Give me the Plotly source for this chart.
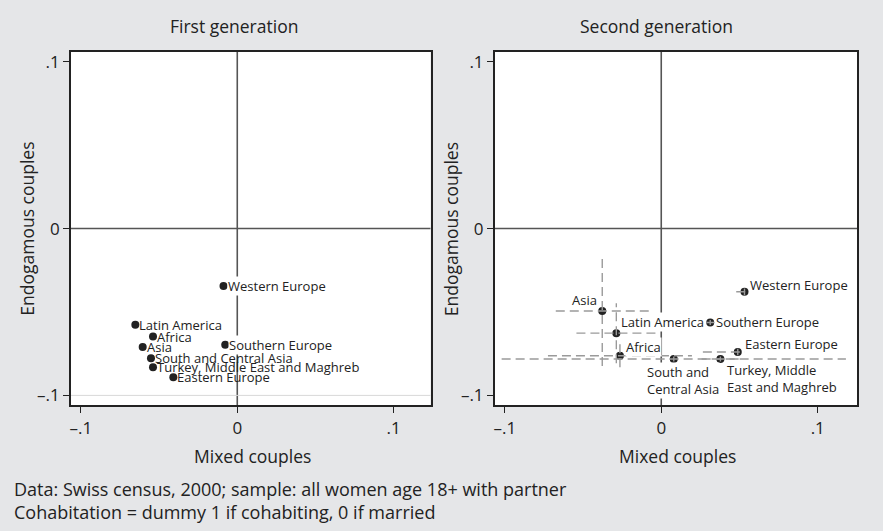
import plotly.graph_objects as go

# ---------------- data ----------------
countries_1 = ["Western Europe", "Latin America", "Africa", "Asia", "Southern Europe",
               "South and Central Asia", "Turkey, Middle East and Maghreb", "Eastern Europe"]
mixed_1 = [-0.0088, -0.0652, -0.0539, -0.0605, -0.0077, -0.0552, -0.0539, -0.0409]
endo_1 = [-0.0345, -0.0577, -0.0647, -0.0710, -0.0696, -0.0778, -0.0832, -0.0891]

countries_2 = ["Western Europe", "Asia", "Latin America", "Southern Europe", "Africa",
               "Eastern Europe", "South and<br>Central Asia", "Turkey, Middle<br>East and Maghreb"]
mixed_2 = [0.0532, -0.0377, -0.0287, 0.0313, -0.0264, 0.0489, 0.0080, 0.0378]
endo_2 = [-0.0379, -0.0494, -0.0627, -0.0563, -0.0762, -0.0740, -0.0782, -0.0782]
mixed_2_ci = [0.0053, 0.0297, 0.0255, 0.0025, 0.0460, 0.0223, 0.1100, 0.0120]
endo_2_ci = [0.0020, 0.0330, 0.0180, 0.0015, 0.0070, 0.0020, 0.0015, 0.0015]

tick_vals = [-0.1, 0, 0.1]
tick_text = ["\u2013.1", "0", ".1"]

# ---------------- style ----------------
FONT = "Open Sans"
BG = "#e5e6e8"
INK = "#222222"
CI_COL = "#9a9a9a"
LBL = 13

# white label background only where a label sits alone over a line
bg_1 = ["white", None, None, None, "white", None, None, None]

# label placement (right panel): xanchor, yanchor, xshift, yshift, align
place_2 = [
    ("left", "middle", 4, 7, "left"),
    ("right", "middle", -4, 11, "right"),
    ("left", "middle", 4, 11, "left"),
    ("left", "middle", 5, 0, "left"),
    ("left", "middle", 5, 9, "left"),
    ("left", "middle", 6, 8, "left"),
    ("center", "top", 9, -3, "left"),
    ("left", "top", 6, -1, "left"),
]

fig = go.Figure()

fig.add_trace(go.Scatter(x=mixed_1, y=endo_1, mode="markers", xaxis="x", yaxis="y",
                         marker=dict(size=8, color=INK), showlegend=False, hoverinfo="skip"))
fig.add_trace(go.Scatter(x=mixed_2, y=endo_2, mode="markers", xaxis="x2", yaxis="y2",
                         marker=dict(size=8, color=INK), showlegend=False, hoverinfo="skip"))

hx, hy, vx, vy = [], [], [], []
for x, y, dx, dy in zip(mixed_2, endo_2, mixed_2_ci, endo_2_ci):
    hx += [x - dx, x + dx, None]
    hy += [y, y, None]
    vx += [x, x, None]
    vy += [y - dy, y + dy, None]
for xs, ys in ((hx, hy), (vx, vy)):
    fig.add_trace(go.Scatter(x=xs, y=ys, mode="lines", xaxis="x2", yaxis="y2",
                             line=dict(color=CI_COL, width=1.4, dash="9px,5px"),
                             showlegend=False, hoverinfo="skip", connectgaps=False))

annotations = []
for name, x, y, bg in zip(countries_1, mixed_1, endo_1, bg_1):
    annotations.append(dict(x=x, y=y, xref="x", yref="y", text=name, showarrow=False,
                            xanchor="left", yanchor="middle", xshift=3, yshift=0,
                            font=dict(family=FONT, size=LBL, color=INK),
                            bgcolor=bg, borderpad=0))
for name, x, y, p in zip(countries_2, mixed_2, endo_2, place_2):
    annotations.append(dict(x=x, y=y, xref="x2", yref="y2", text=name, showarrow=False,
                            xanchor=p[0], yanchor=p[1], xshift=p[2], yshift=p[3], align=p[4],
                            font=dict(family=FONT, size=LBL, color=INK),
                            bgcolor="white", borderpad=0))

W, H = 883, 531
def px(xp):
    return xp / W
def py(yp):
    return 1 - yp / H

txt = dict(family=FONT, size=17.5, color=INK)
note = dict(family=FONT, size=18, color=INK)
annotations += [
    dict(x=px(233), y=py(24), xref="paper", yref="paper", text="First generation",
         showarrow=False, font=txt, xanchor="center", yanchor="middle"),
    dict(x=px(656), y=py(24), xref="paper", yref="paper", text="Second generation",
         showarrow=False, font=txt, xanchor="center", yanchor="middle"),
    dict(x=px(252), y=py(457), xref="paper", yref="paper", text="Mixed couples",
         showarrow=False, font=txt, xanchor="center", yanchor="middle"),
    dict(x=px(677), y=py(457), xref="paper", yref="paper", text="Mixed couples",
         showarrow=False, font=txt, xanchor="center", yanchor="middle"),
    dict(x=px(26), y=py(228), xref="paper", yref="paper", text="Endogamous couples",
         showarrow=False, font=txt, textangle=-90, xanchor="center", yanchor="middle"),
    dict(x=px(450), y=py(228), xref="paper", yref="paper", text="Endogamous couples",
         showarrow=False, font=txt, textangle=-90, xanchor="center", yanchor="middle"),
    dict(x=px(11), y=py(490), xref="paper", yref="paper",
         text="Data: Swiss census, 2000; sample: all women age 18+ with partner",
         showarrow=False, font=note, xanchor="left", yanchor="middle"),
    dict(x=px(11), y=py(513), xref="paper", yref="paper",
         text="Cohabitation = dummy 1 if cohabiting, 0 if married",
         showarrow=False, font=note, xanchor="left", yanchor="middle"),
]

shapes = []
for xr, yr in (("x", "y"), ("x2", "y2")):
    shapes.append(dict(type="line", xref=xr + " domain", yref=yr, x0=0, x1=1, y0=0, y1=0,
                       line=dict(color="#555555", width=1.6), layer="below"))
    shapes.append(dict(type="line", xref=xr, yref=yr + " domain", x0=0, x1=0, y0=0, y1=1,
                       line=dict(color="#555555", width=1.6), layer="below"))
shapes.append(dict(type="line", xref="x domain", yref="y", x0=0, x1=1, y0=-0.1, y1=-0.1,
                   line=dict(color="#d8d8d8", width=1), layer="below"))

axis_common = dict(tickvals=tick_vals, ticktext=tick_text, ticks="outside", ticklen=6,
                   tickwidth=1.3, tickcolor=INK, showline=True, mirror=True, linecolor=INK,
                   linewidth=1.5, showgrid=False, zeroline=False,
                   tickfont=dict(family=FONT, size=17, color=INK))

fig.update_layout(
    width=W, height=H,
    margin=dict(l=0, r=0, t=0, b=0),
    paper_bgcolor=BG, plot_bgcolor="white",
    xaxis=dict(domain=[70 / W, 430 / W], range=[-0.1064, 0.1236], anchor="y", **axis_common),
    yaxis=dict(domain=[1 - 405.7 / H, 1 - 50 / H], range=[-0.106, 0.106], anchor="x", **axis_common),
    xaxis2=dict(domain=[494.3 / W, 857.3 / W], range=[-0.1064, 0.1253], anchor="y2", **axis_common),
    yaxis2=dict(domain=[1 - 405.7 / H, 1 - 50 / H], range=[-0.106, 0.106], anchor="x2", **axis_common),
    annotations=annotations,
    shapes=shapes,
    showlegend=False,
)

fig.write_html("out.html", config={"displayModeBar": False},
               post_script="document.body.style.margin='0px';")
